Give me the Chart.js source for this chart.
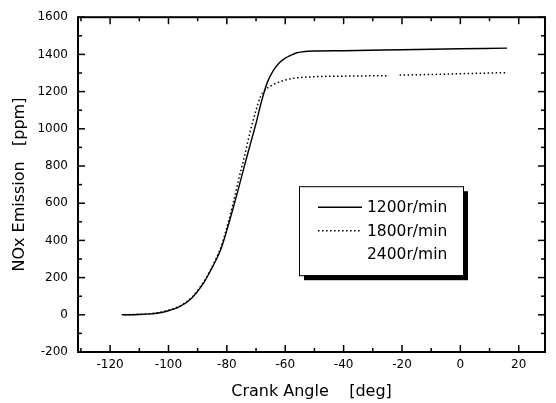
<!DOCTYPE html>
<html>
<head>
<meta charset="utf-8">
<script src="https://cdn.jsdelivr.net/npm/chart.js@4"></script>
<style>
  html, body { margin: 0; padding: 0; background: #fff; }
</style>
</head>
<body>
<canvas id="chart" width="556" height="403"></canvas>
<script>
// crank angle [deg] and NOx [ppm]
const angle1200 = [-116, -110, -106, -104, -100, -96, -92, -88, -86, -84, -82, -80, -78, -76, -74, -72, -70, -68, -66, -64, -62, -60, -58, -56, -54, -50, -40, -20, 0, 16];
const nox1200 = [0, 2, 5, 8, 22, 45, 90, 170, 225, 285, 355, 455, 565, 680, 800, 915, 1030, 1155, 1255, 1315, 1355, 1380, 1396, 1409, 1414, 1418, 1420, 1425, 1430, 1434];

const angle1800 = [-115, -110, -106, -104, -100, -96, -92, -88, -86, -84, -82, -80, -78, -76, -74, -72, -70, -68.5, -67, -65, -62, -60, -57, -50, -40, -30, -24.6, -23, -20.8, -10, 0, 15.5];
const nox1800 = [0, 3, 6, 10, 25, 48, 94, 175, 230, 292, 365, 470, 590, 725, 850, 985, 1100, 1172, 1208, 1230, 1252, 1262, 1272, 1280, 1283, 1285, 1286, null, 1289, 1292, 1296, 1302];

const seriesLabels = ['1200r/min', '1800r/min', '2400r/min'];
const xTicks = [-120, -100, -80, -60, -40, -20, 0, 20];
const xMinor = [-130, -110, -90, -70, -50, -30, -10, 10];
const yMinor = [-100, 100, 300, 500, 700, 900, 1100, 1300, 1500];

const toPoints = (xs, ys) => xs.map((x, i) => ({ x, y: ys[i] }));

const FONT = 'DejaVu Sans';

// box with inward ticks on all four sides
const framePlugin = {
  id: 'frame',
  afterDatasetsDraw(chart) {
    const { ctx, chartArea: a, scales: { x, y } } = chart;
    ctx.save();
    ctx.strokeStyle = '#000';
    ctx.lineWidth = 1.5;
    const line = (x1, y1, x2, y2) => {
      ctx.beginPath();
      ctx.moveTo(x1, y1);
      ctx.lineTo(x2, y2);
      ctx.stroke();
    };
    const xMarks = (vals, len) => vals.forEach(v => {
      const px = x.getPixelForValue(v);
      if (px < a.left || px > a.right) return;
      line(px, a.bottom, px, a.bottom - len);
      line(px, a.top, px, a.top + len);
    });
    const yMarks = (vals, len) => vals.forEach(v => {
      const py = y.getPixelForValue(v);
      line(a.left, py, a.left + len, py);
      line(a.right, py, a.right - len, py);
    });
    xMarks(xTicks, 7);
    xMarks(xMinor, 4);
    yMarks(y.ticks.map(t => t.value), 7);
    yMarks(yMinor, 4);

    ctx.lineWidth = 2;
    ctx.strokeRect(a.left, a.top, a.right - a.left, a.bottom - a.top);
    ctx.restore();
  }
};

// framed legend with a drop shadow, placed inside the plot
const legendPlugin = {
  id: 'boxLegend',
  afterDraw(chart) {
    const { ctx, chartArea: a } = chart;
    const left = a.left + 221, top = a.top + 169, w = 164, h = 89;
    ctx.save();
    ctx.fillStyle = '#000';
    ctx.fillRect(left + 5, top + 5, w, h);
    ctx.fillStyle = '#fff';
    ctx.fillRect(left, top, w, h);
    ctx.strokeStyle = '#000';
    ctx.lineWidth = 1;
    ctx.strokeRect(left + 0.5, top + 0.5, w, h);

    ctx.font = `15.5px "${FONT}"`;
    ctx.textBaseline = 'middle';
    ctx.textAlign = 'left';
    chart.data.datasets.forEach((ds, i) => {
      const ry = top + 21 + i * 23.5;
      ctx.strokeStyle = ds.borderColor;
      ctx.lineWidth = ds.borderWidth;
      ctx.setLineDash(ds.borderDash || []);
      ctx.beginPath();
      ctx.moveTo(left + 19, ry);
      ctx.lineTo(left + 63, ry);
      ctx.stroke();
      ctx.setLineDash([]);
      ctx.fillStyle = '#000';
      ctx.fillText(ds.label, left + 68, ry + 1);
    });
    ctx.restore();
  }
};

new Chart(document.getElementById('chart'), {
  type: 'scatter',
  data: {
    datasets: [
      {
        label: seriesLabels[0],
        data: toPoints(angle1200, nox1200),
        showLine: true,
        borderColor: '#000',
        borderWidth: 1.4,
        pointRadius: 0,
        cubicInterpolationMode: 'monotone'
      },
      {
        label: seriesLabels[1],
        data: toPoints(angle1800, nox1800),
        showLine: true,
        borderColor: '#000',
        borderWidth: 1.5,
        borderDash: [1.5, 2.5],
        pointRadius: 0,
        cubicInterpolationMode: 'monotone'
      },
      {
        label: seriesLabels[2],
        data: [],
        showLine: true,
        borderColor: 'rgba(0,0,0,0)',
        borderWidth: 1,
        pointRadius: 0
      }
    ]
  },
  options: {
    responsive: false,
    animation: false,
    devicePixelRatio: 1,
    layout: { padding: { top: 12, right: 11, left: 0, bottom: 0 } },
    plugins: {
      legend: { display: false },
      tooltip: { enabled: false }
    },
    scales: {
      x: {
        type: 'linear',
        min: -131,
        max: 29,
        afterBuildTicks: s => { s.ticks = xTicks.map(v => ({ value: v })); },
        afterFit: s => { s.height = 51; },
        grid: { display: false, drawTicks: false },
        border: { display: false },
        ticks: { color: '#000', padding: 6, font: { family: FONT, size: 12 }, callback: v => String(v) },
        title: {
          display: true,
          text: 'Crank Angle    [deg]',
          color: '#000',
          font: { family: FONT, size: 16 },
          padding: { top: 0, bottom: 2 }
        }
      },
      y: {
        min: -200,
        max: 1600,
        afterFit: s => { s.width = 78; },
        grid: { display: false, drawTicks: false },
        border: { display: false },
        ticks: { stepSize: 200, color: '#000', padding: 10, font: { family: FONT, size: 12 }, callback: v => String(v) },
        title: {
          display: true,
          text: 'NOx Emission   [ppm]',
          color: '#000',
          font: { family: FONT, size: 16 },
          padding: { top: 10, bottom: 0 }
        }
      }
    }
  },
  plugins: [framePlugin, legendPlugin]
});
</script>
</body>
</html>
